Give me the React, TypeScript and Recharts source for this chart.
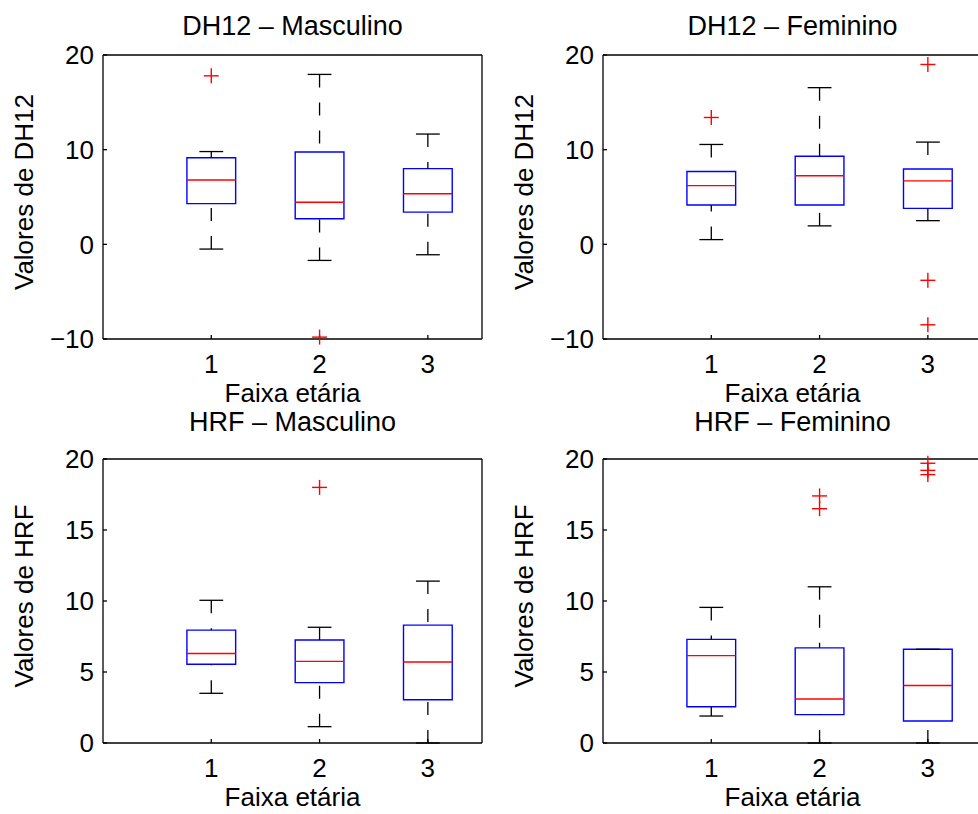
import React from 'react'
import {
  ScatterChart,
  Scatter,
  XAxis,
  YAxis,
  ReferenceArea,
  ReferenceLine,
} from 'recharts'

const categories = [1, 2, 3]

// DH12 - Masculino
const dh12MascMin = [-0.5, -1.7, -1.1]
const dh12MascQ1 = [4.3, 2.7, 3.4]
const dh12MascMed = [6.8, 4.45, 5.35]
const dh12MascQ3 = [9.15, 9.75, 8.0]
const dh12MascMax = [9.8, 17.95, 11.65]
const dh12MascOut = [[17.8], [-9.8], []]

// DH12 - Feminino
const dh12FemMin = [0.5, 1.95, 2.5]
const dh12FemQ1 = [4.15, 4.15, 3.8]
const dh12FemMed = [6.2, 7.25, 6.7]
const dh12FemQ3 = [7.7, 9.3, 7.95]
const dh12FemMax = [10.55, 16.55, 10.8]
const dh12FemOut = [[13.4], [], [19.0, -3.8, -8.5]]

// HRF - Masculino
const hrfMascMin = [3.5, 1.15, 0]
const hrfMascQ1 = [5.55, 4.25, 3.05]
const hrfMascMed = [6.3, 5.75, 5.7]
const hrfMascQ3 = [7.95, 7.25, 8.3]
const hrfMascMax = [10.05, 8.15, 11.4]
const hrfMascOut = [[], [18.0], []]

// HRF - Feminino
const hrfFemMin = [1.9, 0, 0]
const hrfFemQ1 = [2.55, 2.0, 1.55]
const hrfFemMed = [6.15, 3.1, 4.05]
const hrfFemQ3 = [7.3, 6.7, 6.6]
const hrfFemMax = [9.55, 11.0, 6.6]
const hrfFemOut = [[], [17.4, 16.5], [19.7, 19.2, 18.9]]

const dh12Ticks = [-10, 0, 10, 20]
const hrfTicks = [0, 5, 10, 15, 20]

const FONT = 'Liberation Sans, Arial, sans-serif'
const BOX_HALF = 0.225
const CAP_HALF = 0.11

const fmt = (v: number) => String(v).replace('-', '\u2212')

const Plus = (props: any) => {
  const { cx, cy } = props
  if (cx == null || cy == null) return null
  return (
    <g stroke="#ff0000" strokeWidth={1.4}>
      <line x1={cx - 7.5} y1={cy} x2={cx + 7.5} y2={cy} />
      <line x1={cx} y1={cy - 7.5} x2={cx} y2={cy + 7.5} />
    </g>
  )
}

type PanelProps = {
  left: number
  top: number
  title: string
  titleOffset: number
  yLabel: string
  domain: [number, number]
  ticks: number[]
  min: number[]
  q1: number[]
  med: number[]
  q3: number[]
  max: number[]
  out: number[][]
}

function Panel(p: PanelProps) {
  const outliers = categories.flatMap((c, i) => p.out[i].map((y) => ({ x: c, y })))
  const axisStroke = { stroke: '#000', strokeWidth: 1.3 }
  const tickStyle = { fontSize: 26, fill: '#000', fontFamily: FONT }
  return (
    <div style={{ position: 'absolute', left: p.left, top: p.top }}>
      <ScatterChart width={489} height={412} margin={{ top: 0, right: 0, bottom: 0, left: 0 }}>
        <XAxis
          xAxisId="top"
          orientation="top"
          type="number"
          dataKey="x"
          domain={[0, 3.5]}
          ticks={categories}
          height={55}
          tickSize={-4}
          tickFormatter={() => ''}
          axisLine={axisStroke}
          tickLine={axisStroke}
          label={{ value: p.title, position: 'insideTop', offset: p.titleOffset, fontSize: 27, fill: '#000', fontFamily: FONT }}
        />
        <XAxis
          type="number"
          dataKey="x"
          domain={[0, 3.5]}
          ticks={categories}
          height={73}
          tickSize={-4}
          tickMargin={19.5}
          tick={tickStyle}
          axisLine={axisStroke}
          tickLine={axisStroke}
          label={{ value: 'Faixa etária', position: 'insideBottom', offset: 10, fontSize: 26, fill: '#000', fontFamily: FONT }}
        />
        <YAxis
          type="number"
          dataKey="y"
          domain={p.domain}
          ticks={p.ticks}
          width={103}
          tickSize={-4}
          tickMargin={13}
          tick={tickStyle}
          tickFormatter={fmt}
          axisLine={axisStroke}
          tickLine={axisStroke}
          label={{
            value: p.yLabel,
            angle: -90,
            position: 'insideLeft',
            offset: 24,
            dy: -5,
            fontSize: 26,
            fill: '#000',
            fontFamily: FONT,
            style: { textAnchor: 'middle' },
          }}
        />
        <YAxis
          yAxisId="r"
          orientation="right"
          type="number"
          domain={p.domain}
          ticks={p.ticks}
          width={7}
          tickSize={-4}
          tickFormatter={() => ''}
          axisLine={axisStroke}
          tickLine={axisStroke}
        />
        {categories.map((c, i) => (
          <React.Fragment key={c}>
            <ReferenceLine
              segment={[{ x: c, y: p.max[i] }, { x: c, y: p.q3[i] }]}
              stroke="#000"
              strokeWidth={1.3}
              strokeDasharray="13 15"
              ifOverflow="visible"
            />
            <ReferenceLine
              segment={[{ x: c, y: p.min[i] }, { x: c, y: p.q1[i] }]}
              stroke="#000"
              strokeWidth={1.3}
              strokeDasharray="13 15"
              ifOverflow="visible"
            />
            <ReferenceLine
              segment={[{ x: c - CAP_HALF, y: p.max[i] }, { x: c + CAP_HALF, y: p.max[i] }]}
              stroke="#000"
              strokeWidth={1.3}
              ifOverflow="visible"
            />
            <ReferenceLine
              segment={[{ x: c - CAP_HALF, y: p.min[i] }, { x: c + CAP_HALF, y: p.min[i] }]}
              stroke="#000"
              strokeWidth={1.3}
              ifOverflow="visible"
            />
            <ReferenceArea
              x1={c - BOX_HALF}
              x2={c + BOX_HALF}
              y1={p.q1[i]}
              y2={p.q3[i]}
              fill="none"
              fillOpacity={0}
              stroke="#0000ff"
              strokeWidth={1.4}
              ifOverflow="visible"
            />
            <ReferenceLine
              segment={[{ x: c - BOX_HALF, y: p.med[i] }, { x: c + BOX_HALF, y: p.med[i] }]}
              stroke="#ff0000"
              strokeWidth={1.4}
              ifOverflow="visible"
            />
          </React.Fragment>
        ))}
        <Scatter data={outliers} shape={<Plus />} isAnimationActive={false} />
      </ScatterChart>
    </div>
  )
}

export default function App() {
  return (
    <div
      style={{
        position: 'absolute',
        left: 0,
        top: 0,
        width: 978,
        height: 814,
        overflow: 'hidden',
        background: '#fff',
        fontFamily: FONT,
      }}
    >
      <Panel left={0} top={0} title="DH12 – Masculino" titleOffset={15.5} yLabel="Valores de DH12"
        domain={[-10, 20]} ticks={dh12Ticks}
        min={dh12MascMin} q1={dh12MascQ1} med={dh12MascMed} q3={dh12MascQ3} max={dh12MascMax} out={dh12MascOut} />
      <Panel left={500} top={0} title="DH12 – Feminino" titleOffset={15.5} yLabel="Valores de DH12"
        domain={[-10, 20]} ticks={dh12Ticks}
        min={dh12FemMin} q1={dh12FemQ1} med={dh12FemMed} q3={dh12FemQ3} max={dh12FemMax} out={dh12FemOut} />
      <Panel left={0} top={404} title="HRF – Masculino" titleOffset={7.5} yLabel="Valores de HRF"
        domain={[0, 20]} ticks={hrfTicks}
        min={hrfMascMin} q1={hrfMascQ1} med={hrfMascMed} q3={hrfMascQ3} max={hrfMascMax} out={hrfMascOut} />
      <Panel left={500} top={404} title="HRF – Feminino" titleOffset={7.5} yLabel="Valores de HRF"
        domain={[0, 20]} ticks={hrfTicks}
        min={hrfFemMin} q1={hrfFemQ1} med={hrfFemMed} q3={hrfFemQ3} max={hrfFemMax} out={hrfFemOut} />
    </div>
  )
}
